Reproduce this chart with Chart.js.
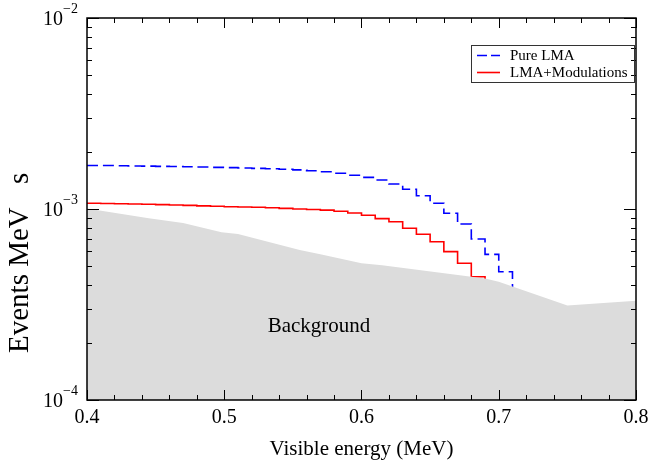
<!DOCTYPE html>
<html>
<head>
<meta charset="utf-8">
<script src="https://cdn.jsdelivr.net/npm/chart.js@4.4.1/dist/chart.umd.min.js"></script>
<style>
  html, body { margin: 0; padding: 0; background: #fff; }
  #wrap { width: 649px; height: 463px; }
</style>
</head>
<body>
<div id="wrap"><canvas id="spectrum" width="649" height="463"></canvas></div>
<script>
// Histogram bin edges (MeV), left edges + closing edge
const binEdges = [0.40, 0.41, 0.42, 0.43, 0.44, 0.45, 0.46, 0.47, 0.48, 0.49,
                  0.50, 0.51, 0.52, 0.53, 0.54, 0.55, 0.56, 0.57, 0.58, 0.59,
                  0.60, 0.61, 0.62, 0.63, 0.64, 0.65, 0.66, 0.67, 0.68, 0.69,
                  0.70, 0.71];

// Events / MeV / s per bin
const pureLma = [1.690e-3, 1.688e-3, 1.684e-3, 1.680e-3, 1.676e-3, 1.672e-3, 1.668e-3, 1.664e-3, 1.658e-3, 1.652e-3,
                 1.646e-3, 1.640e-3, 1.632e-3, 1.625e-3, 1.615e-3, 1.602e-3, 1.585e-3, 1.568e-3, 1.538e-3, 1.501e-3,
                 1.465e-3, 1.418e-3, 1.351e-3, 1.268e-3, 1.173e-3, 1.071e-3, 0.950e-3, 0.834e-3, 0.697e-3, 0.579e-3,
                 0.469e-3];
const lmaModulations = [1.071e-3, 1.069e-3, 1.066e-3, 1.062e-3, 1.058e-3, 1.054e-3, 1.049e-3, 1.045e-3, 1.039e-3, 1.034e-3,
                        1.028e-3, 1.024e-3, 1.021e-3, 1.015e-3, 1.007e-3, 1.000e-3, 0.994e-3, 0.986e-3, 0.973e-3, 0.953e-3,
                        0.927e-3, 0.890e-3, 0.858e-3, 0.793e-3, 0.737e-3, 0.674e-3, 0.598e-3, 0.520e-3, 0.442e-3];
const emptyBin = 1e-6; // below the axis, spectrum ends

// Background envelope
const bgEnergy = [0.400, 0.445, 0.470, 0.498, 0.510, 0.555, 0.570, 0.600, 0.615, 0.690, 0.700, 0.750, 0.800];
const bgRate = [1.006e-3, 0.895e-3, 0.845e-3, 0.755e-3, 0.740e-3, 0.610e-3, 0.580e-3, 0.520e-3, 0.508e-3,
                0.432e-3, 0.416e-3, 0.312e-3, 0.331e-3];

// Axis ticks
const xMajor = [0.4, 0.5, 0.6, 0.7, 0.8];
const xLabels = ['0.4', '0.5', '0.6', '0.7', '0.8'];
const xMinor = [0.42, 0.44, 0.46, 0.48, 0.52, 0.54, 0.56, 0.58, 0.62, 0.64, 0.66, 0.68, 0.72, 0.74, 0.76, 0.78];
const yMajor = [1e-4, 1e-3, 1e-2];
const yExponents = ['\u22124', '\u22123', '\u22122'];
const yMinor = [2e-4, 3e-4, 4e-4, 5e-4, 6e-4, 7e-4, 8e-4, 9e-4, 2e-3, 3e-3, 4e-3, 5e-3, 6e-3, 7e-3, 8e-3, 9e-3];

const SERIF = '"Liberation Serif", "Times New Roman", serif';

function steps(values) {
  const pts = values.map((v, i) => ({ x: binEdges[i], y: v }));
  pts.push({ x: binEdges[values.length], y: emptyBin });
  return pts;
}

const frame = {
  id: 'frame',
  afterDraw(chart) {
    const { ctx, chartArea: a } = chart;
    const xs = chart.scales.x, ys = chart.scales.y;
    ctx.save();
    ctx.strokeStyle = '#000';
    ctx.lineWidth = 1;
    ctx.beginPath();
    const xTick = (v, len) => {
      const px = Math.round(xs.getPixelForValue(v)) + 0.5;
      ctx.moveTo(px, a.bottom); ctx.lineTo(px, a.bottom - len);
      ctx.moveTo(px, a.top); ctx.lineTo(px, a.top + len);
    };
    const yTick = (v, len) => {
      const py = Math.round(ys.getPixelForValue(v)) + 0.5;
      ctx.moveTo(a.left, py); ctx.lineTo(a.left + len, py);
      ctx.moveTo(a.right, py); ctx.lineTo(a.right - len, py);
    };
    xMajor.forEach(v => xTick(v, 10));
    xMinor.forEach(v => xTick(v, 5));
    yMajor.forEach(v => yTick(v, 12));
    yMinor.forEach(v => yTick(v, 5));
    ctx.stroke();

    ctx.lineWidth = 1.5;
    ctx.strokeRect(a.left, a.top, a.right - a.left, a.bottom - a.top);

    // tick labels
    ctx.fillStyle = '#000';
    ctx.font = '20px ' + SERIF;
    ctx.textAlign = 'center';
    ctx.textBaseline = 'alphabetic';
    xMajor.forEach((v, i) => ctx.fillText(xLabels[i], xs.getPixelForValue(v), 423));

    ctx.textAlign = 'right';
    yMajor.forEach((v, i) => {
      const py = ys.getPixelForValue(v);
      ctx.font = '14px ' + SERIF;
      const w = ctx.measureText(yExponents[i]).width;
      ctx.fillText(yExponents[i], 78, py - 5);
      ctx.font = '20px ' + SERIF;
      ctx.fillText('10', 78 - w, py + 7);
    });

    // axis titles
    ctx.font = '21px ' + SERIF;
    ctx.textAlign = 'center';
    ctx.fillText('Visible energy (MeV)', (a.left + a.right) / 2, 455);

    // y title: the superscripts of the original are blank, leaving gaps
    ctx.save();
    ctx.translate(28, 353);
    ctx.rotate(-Math.PI / 2);
    ctx.font = '29px ' + SERIF;
    ctx.textAlign = 'left';
    ctx.fillText('Events MeV', 0, 0);
    ctx.fillText('s', 169, 0);
    ctx.restore();

    // in-plot label
    ctx.font = '21px ' + SERIF;
    ctx.textAlign = 'center';
    ctx.fillText('Background', xs.getPixelForValue(0.569), 332);

    // legend box
    ctx.lineWidth = 1;
    ctx.strokeStyle = '#333';
    ctx.strokeRect(471.5, 45.5, 163, 37);
    ctx.lineWidth = 1.6;
    ctx.strokeStyle = '#0000ff';
    ctx.setLineDash([10, 4]);
    ctx.beginPath(); ctx.moveTo(477, 55.5); ctx.lineTo(500, 55.5); ctx.stroke();
    ctx.setLineDash([]);
    ctx.strokeStyle = '#ff0000';
    ctx.beginPath(); ctx.moveTo(477, 72.5); ctx.lineTo(500, 72.5); ctx.stroke();
    ctx.font = '15px ' + SERIF;
    ctx.textAlign = 'left';
    ctx.fillText('Pure LMA', 510, 60);
    ctx.fillText('LMA+Modulations', 510, 77);
    ctx.restore();
  }
};

new Chart(document.getElementById('spectrum'), {
  type: 'line',
  data: {
    datasets: [
      {
        label: 'Pure LMA',
        data: steps(pureLma),
        stepped: 'before',
        borderColor: '#0000ff',
        borderWidth: 1.6,
        borderDash: [11, 5],
        pointRadius: 0,
        fill: false,
        order: 1
      },
      {
        label: 'LMA+Modulations',
        data: steps(lmaModulations),
        stepped: 'before',
        borderColor: '#ff0000',
        borderWidth: 1.6,
        pointRadius: 0,
        fill: false,
        order: 1
      },
      {
        label: 'Background',
        data: bgEnergy.map((e, i) => ({ x: e, y: bgRate[i] })),
        borderWidth: 0,
        borderColor: 'rgba(0,0,0,0)',
        backgroundColor: '#dcdcdc',
        pointRadius: 0,
        fill: 'start',
        tension: 0,
        order: 0
      }
    ]
  },
  options: {
    responsive: false,
    animation: false,
    layout: { padding: { left: 87, top: 18, right: 13, bottom: 63 } },
    scales: {
      x: { type: 'linear', min: 0.4, max: 0.8, display: false },
      y: { type: 'logarithmic', min: 1e-4, max: 1e-2, display: false }
    },
    plugins: {
      legend: { display: false },
      tooltip: { enabled: false }
    }
  },
  plugins: [frame]
});
</script>
</body>
</html>
